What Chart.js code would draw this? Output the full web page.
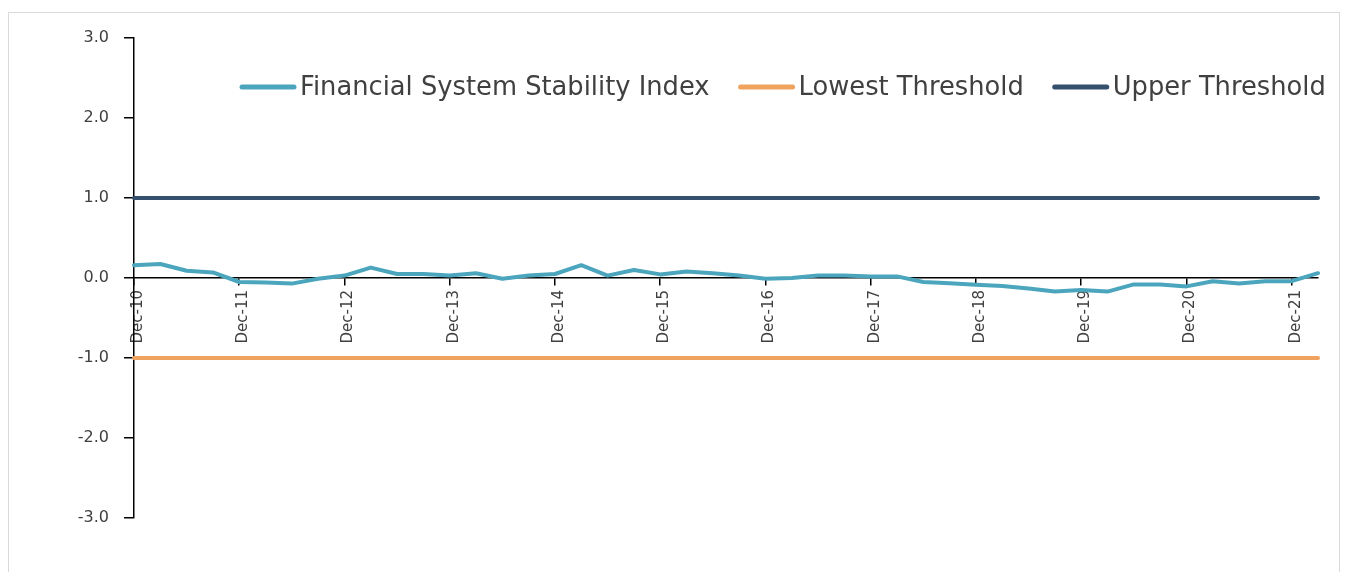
<!DOCTYPE html>
<html>
<head>
<meta charset="utf-8">
<script src="https://cdn.jsdelivr.net/npm/chart.js@4.4.1/dist/chart.umd.min.js"></script>
<style>
  html, body { margin: 0; padding: 0; background: #ffffff; }
  #wrap { position: relative; width: 1350px; height: 572px; }
</style>
</head>
<body>
<div id="wrap"><canvas id="c" width="1350" height="572"></canvas></div>
<script>
const categories = [
  "Dec-10","Mar-11","Jun-11","Sep-11","Dec-11","Mar-12","Jun-12","Sep-12",
  "Dec-12","Mar-13","Jun-13","Sep-13","Dec-13","Mar-14","Jun-14","Sep-14",
  "Dec-14","Mar-15","Jun-15","Sep-15","Dec-15","Mar-16","Jun-16","Sep-16",
  "Dec-16","Mar-17","Jun-17","Sep-17","Dec-17","Mar-18","Jun-18","Sep-18",
  "Dec-18","Mar-19","Jun-19","Sep-19","Dec-19","Mar-20","Jun-20","Sep-20",
  "Dec-20","Mar-21","Jun-21","Sep-21","Dec-21","Mar-22"
];
const fssiValues = [
  0.16, 0.175, 0.09, 0.07, -0.05, -0.055, -0.07, -0.01,
  0.03, 0.13, 0.05, 0.05, 0.03, 0.06, -0.01, 0.03,
  0.05, 0.16, 0.03, 0.10, 0.045, 0.08, 0.06, 0.03,
  -0.01, 0.00, 0.03, 0.03, 0.02, 0.02, -0.05, -0.065,
  -0.085, -0.10, -0.13, -0.17, -0.15, -0.17, -0.08, -0.08,
  -0.105, -0.04, -0.07, -0.04, -0.04, 0.06
];
const lowestThreshold = [
  -1,-1,-1,-1,-1,-1,-1,-1,-1,-1,-1,-1,-1,-1,-1,-1,-1,-1,-1,-1,-1,-1,-1,
  -1,-1,-1,-1,-1,-1,-1,-1,-1,-1,-1,-1,-1,-1,-1,-1,-1,-1,-1,-1,-1,-1,-1
];
const upperThreshold = [
  1,1,1,1,1,1,1,1,1,1,1,1,1,1,1,1,1,1,1,1,1,1,1,
  1,1,1,1,1,1,1,1,1,1,1,1,1,1,1,1,1,1,1,1,1,1,1
];
const yTicks = [-3, -2, -1, 0, 1, 2, 3];
const seriesNames = ["Financial System Stability Index", "Lowest Threshold", "Upper Threshold"];
const seriesColors = ["#4ba6bd", "#f0a35e", "#34506c"];

const frameAndLegend = {
  id: 'frameAndLegend',
  beforeDraw(chart) {
    const ctx = chart.ctx;
    ctx.save();
    ctx.fillStyle = '#ffffff';
    ctx.fillRect(0, 0, chart.width, chart.height);
    ctx.strokeStyle = '#d9d9d9';
    ctx.lineWidth = 1;
    ctx.strokeRect(8.5, 12.5, 1331, 620);
    ctx.restore();
  },
  afterDraw(chart) {
    const ctx = chart.ctx;
    ctx.save();
    const lineLen = 56, gapText = 4, gapItem = 29;
    const startX = 240, endX = 1326, y = 87;
    ctx.font = '20px "DejaVu Sans"';
    let tw = 0;
    chart.data.datasets.forEach(ds => { tw += ctx.measureText(ds.label).width; });
    const n = chart.data.datasets.length;
    const avail = (endX - startX) - n * (lineLen + gapText) - (n - 1) * gapItem;
    const fs = 20 * avail / tw;
    ctx.font = fs.toFixed(2) + 'px "DejaVu Sans"';
    ctx.textBaseline = 'middle';
    let x = startX;
    chart.data.datasets.forEach(ds => {
      ctx.strokeStyle = ds.borderColor;
      ctx.lineWidth = 5;
      ctx.lineCap = 'round';
      ctx.beginPath();
      ctx.moveTo(x + 2, y);
      ctx.lineTo(x + lineLen - 2, y);
      ctx.stroke();
      x += lineLen + gapText;
      ctx.fillStyle = '#404040';
      ctx.fillText(ds.label, x, y + 1);
      x += ctx.measureText(ds.label).width + gapItem;
    });
    ctx.restore();
  }
};

new Chart(document.getElementById('c'), {
  type: 'line',
  data: {
    labels: categories,
    datasets: [
      { label: seriesNames[0], data: fssiValues, borderColor: seriesColors[0], backgroundColor: seriesColors[0], borderWidth: 4, pointRadius: 0, tension: 0, borderCapStyle: 'round', borderJoinStyle: 'round' },
      { label: seriesNames[1], data: lowestThreshold, borderColor: seriesColors[1], backgroundColor: seriesColors[1], borderWidth: 4, pointRadius: 0, tension: 0, borderCapStyle: 'round' },
      { label: seriesNames[2], data: upperThreshold, borderColor: seriesColors[2], backgroundColor: seriesColors[2], borderWidth: 4, pointRadius: 0, tension: 0, borderCapStyle: 'round' }
    ]
  },
  options: {
    responsive: false,
    animation: false,
    layout: { padding: { top: 38, bottom: 54, left: 0, right: 32 } },
    plugins: {
      legend: { display: false },
      tooltip: { enabled: false }
    },
    scales: {
      x: {
        type: 'category',
        position: { y: 0 },
        offset: false,
        border: { display: true, color: '#000000', width: 1.5 },
        grid: {
          drawOnChartArea: false,
          drawTicks: true,
          tickLength: 7,
          lineWidth: 1.5,
          color: (c) => (categories[c.index] && categories[c.index].startsWith('Dec')) ? '#000000' : 'rgba(0,0,0,0)'
        },
        ticks: {
          autoSkip: false,
          maxRotation: 90,
          minRotation: 90,
          padding: 5,
          labelOffset: 4,
          color: '#404040',
          font: { family: 'DejaVu Sans', size: 15 },
          callback: function(v, i) { const l = categories[i]; return l.startsWith('Dec') ? l : ''; }
        }
      },
      y: {
        min: -3,
        max: 3,
        afterFit: (s) => { s.width = 134; },
        afterBuildTicks: (s) => { s.ticks = yTicks.map(v => ({ value: v })); },
        border: { display: true, color: '#000000', width: 1.5 },
        grid: { drawOnChartArea: false, drawTicks: true, tickLength: 10, color: '#000000', lineWidth: 1.5 },
        ticks: {
          padding: 15,
          color: '#404040',
          font: { family: 'DejaVu Sans', size: 16 },
          callback: (v) => Number(v).toFixed(1)
        }
      }
    }
  },
  plugins: [frameAndLegend]
});
</script>
</body>
</html>
